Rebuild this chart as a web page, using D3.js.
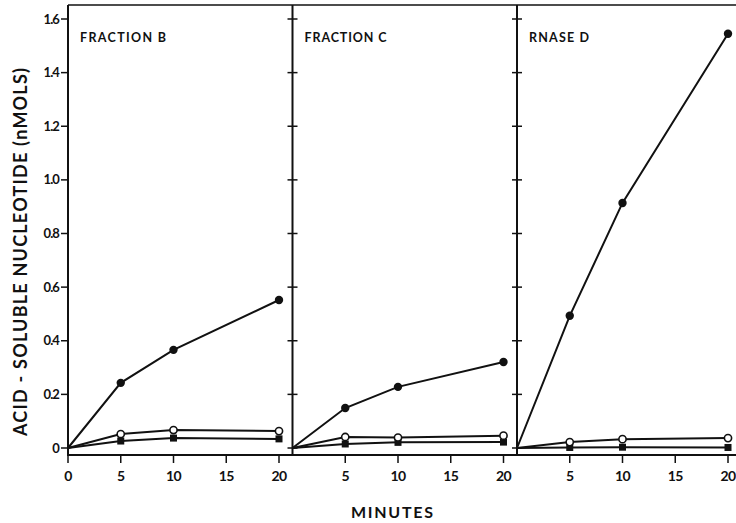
<!DOCTYPE html>
<html><head><meta charset="utf-8">
<script src="https://cdn.jsdelivr.net/npm/d3@7"></script>
<style>body{margin:0;background:#fff}svg{display:block}text{font-family:Lato,"DejaVu Sans",sans-serif;font-weight:bold;fill:#111}</style>
</head><body><svg id="c" width="736" height="523"></svg>
<script>
const panels = ["FRACTION B", "FRACTION C", "RNASE D"];
const minutes = [0, 5, 10, 20];
const xTicks = [0, 5, 10, 15, 20];
const yTicks = [0, 0.2, 0.4, 0.6, 0.8, 1.0, 1.2, 1.4, 1.6];
const yTickLabels = ["0", "0.2", "0.4", "0.6", "0.8", "1.0", "1.2", "1.4", "1.6"];
// series per panel: filled circles, open circles, filled squares
const filledCircles = [[0, 0.243, 0.366, 0.552], [0, 0.149, 0.228, 0.321], [0, 0.493, 0.914, 1.545]];
const openCircles   = [[0, 0.052, 0.067, 0.063], [0, 0.041, 0.039, 0.046], [0, 0.022, 0.033, 0.037]];
const filledSquares = [[0, 0.026, 0.037, 0.034], [0, 0.015, 0.021, 0.022], [0, 0.002, 0.003, 0.002]];
const titleWidths = [86, 82, 60];

const svg = d3.select("#c");
const topY = 5, bottomY = 455, left0 = 68, pw = 224.5;
const y = d3.scaleLinear().domain([0, 1.6]).range([448, 19]);
const ink = "#111";

svg.append("line").attr("x1", left0).attr("x2", 736).attr("y1", topY).attr("y2", topY).attr("stroke", ink).attr("stroke-width", 1.5);
svg.append("line").attr("x1", left0 - 1).attr("x2", 736).attr("y1", bottomY).attr("y2", bottomY).attr("stroke", ink).attr("stroke-width", 2);

panels.forEach((name, i) => {
  const x0 = left0 + i * pw;
  const x = d3.scaleLinear().domain([0, 20]).range([x0, x0 + 211]);
  const g = svg.append("g");
  g.append("line").attr("x1", x0).attr("x2", x0).attr("y1", topY).attr("y2", bottomY).attr("stroke", ink).attr("stroke-width", 2);
  g.selectAll(".yt").data(yTicks).join("line")
    .attr("x1", i === 0 ? x0 - 7 : x0 - 5).attr("x2", i === 0 ? x0 : x0 + 5)
    .attr("y1", d => y(d)).attr("y2", d => y(d)).attr("stroke", ink).attr("stroke-width", 1.5);
  if (i === 0) {
    g.selectAll(".yl").data(yTicks).join("text")
      .attr("x", x0 - 9).attr("y", d => y(d) + 4.5).attr("text-anchor", "end")
      .attr("font-size", 13).attr("letter-spacing", -0.9)
      .text((d, k) => yTickLabels[k]);
  }
  const xt = i === 0 ? xTicks : xTicks.slice(1);
  g.selectAll(".xt").data(xt).join("line")
    .attr("x1", d => x(d)).attr("x2", d => x(d)).attr("y1", bottomY).attr("y2", bottomY + 8)
    .attr("stroke", ink).attr("stroke-width", 1.5);
  g.selectAll(".xl").data(xt).join("text")
    .attr("x", d => x(d)).attr("y", 481).attr("text-anchor", "middle")
    .attr("font-size", 14).attr("letter-spacing", -0.5).text(d => d);
  g.append("text").attr("x", x0 + 12).attr("y", 42).attr("font-size", 12.5)
    .attr("textLength", titleWidths[i]).attr("lengthAdjust", "spacing").text(name);

  const line = d3.line().x((d, k) => x(minutes[k])).y(d => y(d));
  [filledSquares[i], openCircles[i], filledCircles[i]].forEach(s => {
    g.append("path").attr("d", line(s)).attr("fill", "none").attr("stroke", ink).attr("stroke-width", 2);
  });
  const pts = (arr) => arr.map((v, k) => ({m: minutes[k], v})).filter(d => d.m > 0);
  g.selectAll(".sq").data(pts(filledSquares[i])).join("rect")
    .attr("x", d => x(d.m) - 3.5).attr("y", d => y(d.v) - 3.5).attr("width", 7).attr("height", 7).attr("fill", ink);
  g.selectAll(".oc").data(pts(openCircles[i])).join("circle")
    .attr("cx", d => x(d.m)).attr("cy", d => y(d.v)).attr("r", 3.6).attr("fill", "#fff").attr("stroke", ink).attr("stroke-width", 1.6);
  g.selectAll(".fc").data(pts(filledCircles[i])).join("circle")
    .attr("cx", d => x(d.m)).attr("cy", d => y(d.v)).attr("r", 4.2).attr("fill", ink);
});

svg.append("text").attr("x", 392).attr("y", 518).attr("text-anchor", "middle")
  .attr("font-size", 16).attr("textLength", 82).attr("lengthAdjust", "spacing").text("MINUTES");
svg.append("text").attr("transform", "translate(27,252) rotate(-90)").attr("text-anchor", "middle")
  .attr("font-size", 18).attr("textLength", 368).attr("lengthAdjust", "spacing").text("ACID - SOLUBLE NUCLEOTIDE (nMOLS)");
</script></body></html>
